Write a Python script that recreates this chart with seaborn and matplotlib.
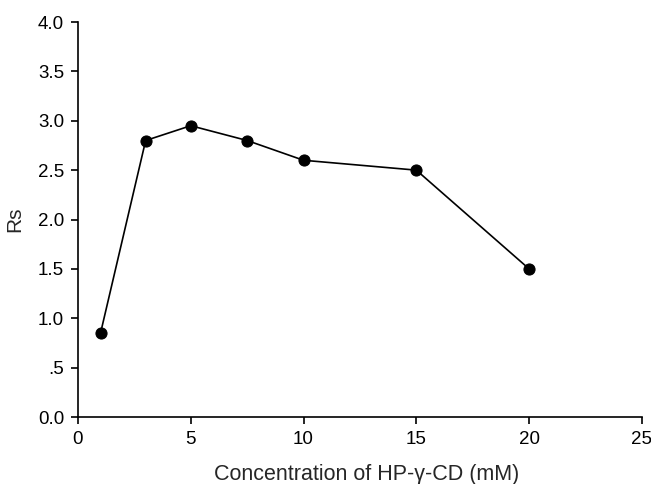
import matplotlib
matplotlib.use("Agg")
import matplotlib.pyplot as plt
import seaborn as sns
import pandas as pd

concentration = [1, 3, 5, 7.5, 10, 15, 20]
rs_values = [0.85, 2.8, 2.95, 2.8, 2.6, 2.5, 1.5]
x_ticks = [0, 5, 10, 15, 20, 25]
y_ticks = [0.0, 0.5, 1.0, 1.5, 2.0, 2.5, 3.0, 3.5, 4.0]
y_tick_labels = ["0.0", ".5", "1.0", "1.5", "2.0", "2.5", "3.0", "3.5", "4.0"]

sns.set_style("ticks")
plt.rcParams['font.family'] = ['Liberation Sans', 'DejaVu Sans']

df = pd.DataFrame({"conc": concentration, "rs": rs_values})

fig = plt.figure(figsize=(6.51, 4.84), dpi=100)
ax = fig.add_axes([0.1198, 0.1384, 0.8662, 0.8161])
sns.lineplot(data=df, x="conc", y="rs", ax=ax, color="black", linewidth=1.2,
             marker="o", markersize=8, markeredgecolor="black", markerfacecolor="black")

ax.set_xlim(0, 25)
ax.set_ylim(0, 4.0)
ax.set_xticks(x_ticks)
ax.set_xticklabels([str(t) for t in x_ticks])
ax.set_yticks(y_ticks)
ax.set_yticklabels(y_tick_labels)
ax.tick_params(axis="both", labelsize=13.5, direction="out", length=5, width=1.2,
               colors="black", pad=5)
for s in ["top", "right"]:
    ax.spines[s].set_visible(False)
for s in ["left", "bottom"]:
    ax.spines[s].set_linewidth(1.2)
    ax.spines[s].set_color("black")
ax.set_xlabel("Concentration of HP-γ-CD (mM)", fontsize=15.5)
ax.xaxis.set_label_coords(0.512, -0.118)
ax.set_ylabel("Rs", fontsize=15, labelpad=10)

fig.savefig("out.png", dpi=100)
